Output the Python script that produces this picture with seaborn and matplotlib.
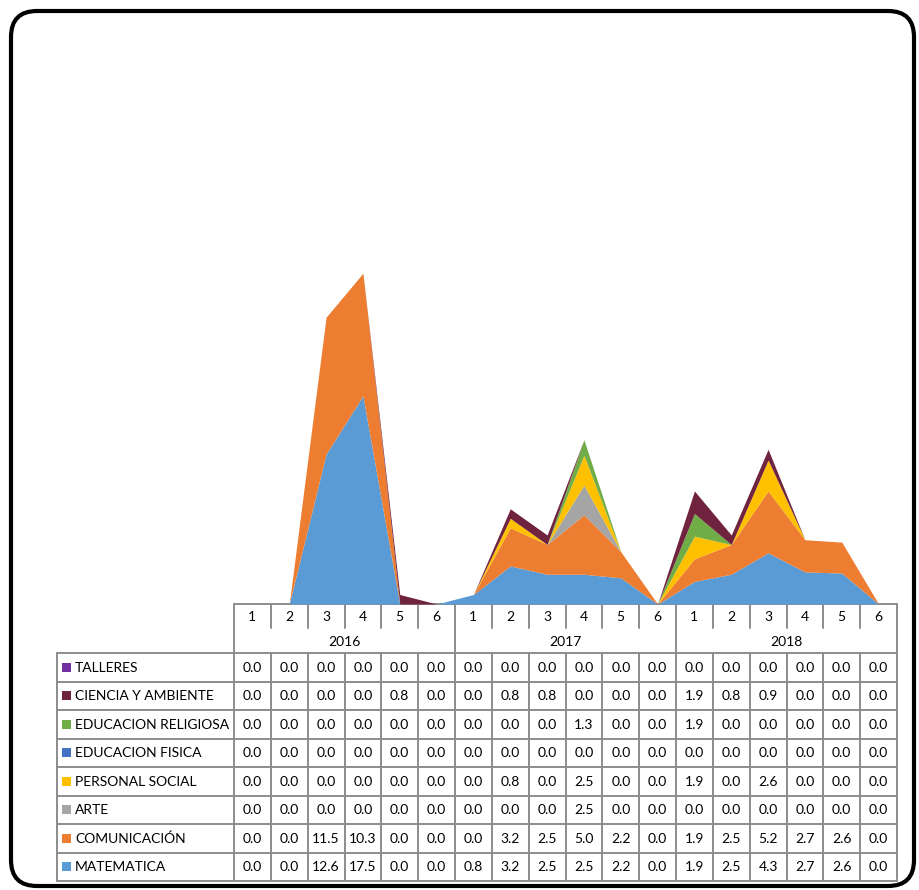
import matplotlib
matplotlib.use("Agg")
import matplotlib.pyplot as plt
from matplotlib.patches import FancyBboxPatch, Rectangle
import numpy as np
import seaborn as sns

# --- data -------------------------------------------------------------
years = ["2016", "2017", "2018"]
periods = ["1", "2", "3", "4", "5", "6"]

subjects = ["MATEMATICA", "COMUNICACIÓN", "ARTE", "PERSONAL SOCIAL",
            "EDUCACION FISICA", "EDUCACION RELIGIOSA", "CIENCIA Y AMBIENTE",
            "TALLERES"]

matematica = [0.0, 0.0, 12.6, 17.5, 0.0, 0.0, 0.8, 3.2, 2.5, 2.5, 2.2, 0.0,
              1.9, 2.5, 4.3, 2.7, 2.6, 0.0]
comunicacion = [0.0, 0.0, 11.5, 10.3, 0.0, 0.0, 0.0, 3.2, 2.5, 5.0, 2.2, 0.0,
                1.9, 2.5, 5.2, 2.7, 2.6, 0.0]
arte = [0.0, 0.0, 0.0, 0.0, 0.0, 0.0, 0.0, 0.0, 0.0, 2.5, 0.0, 0.0,
        0.0, 0.0, 0.0, 0.0, 0.0, 0.0]
personal_social = [0.0, 0.0, 0.0, 0.0, 0.0, 0.0, 0.0, 0.8, 0.0, 2.5, 0.0, 0.0,
                   1.9, 0.0, 2.6, 0.0, 0.0, 0.0]
educacion_fisica = [0.0] * 18
educacion_religiosa = [0.0, 0.0, 0.0, 0.0, 0.0, 0.0, 0.0, 0.0, 0.0, 1.3, 0.0, 0.0,
                       1.9, 0.0, 0.0, 0.0, 0.0, 0.0]
ciencia_ambiente = [0.0, 0.0, 0.0, 0.0, 0.8, 0.0, 0.0, 0.8, 0.8, 0.0, 0.0, 0.0,
                    1.9, 0.8, 0.9, 0.0, 0.0, 0.0]
talleres = [0.0] * 18

series = [matematica, comunicacion, arte, personal_social, educacion_fisica,
          educacion_religiosa, ciencia_ambiente, talleres]

colors = ["#5B9BD5", "#ED7D31", "#A5A5A5", "#FFC000", "#4472C4", "#70AD47",
          "#70233F", "#7030A0"]

# --- style ------------------------------------------------------------
sns.set_theme(style="white")
plt.rcParams["font.family"] = ["Lato", "DejaVu Sans"]
palette = sns.color_palette(colors)

W, H = 919, 890
fig = plt.figure(figsize=(W / 100, H / 100), dpi=100)

# pixel-space helper axes for the frame and the data table
bg = fig.add_axes([0, 0, 1, 1])
bg.set_xlim(0, W)
bg.set_ylim(H, 0)
bg.axis("off")

frame = FancyBboxPatch((11, 11), 903, 875,
                       boxstyle="round,pad=0,rounding_size=26",
                       fill=False, ec="black", lw=3.0, zorder=1)
bg.add_patch(frame)

# geometry of the table
x0, x1 = 234.0, 897.0      # category columns
lx = 57.0                  # legend column left edge
y_axis = 604.0             # top of header (category axis)
y_hdr1 = 628.0             # end of period tick lines
y_hdr2 = 653.0             # start of data rows
row_h = 28.5
n_cat = len(years) * len(periods)
col_w = (x1 - x0) / n_cat

# --- stacked area ------------------------------------------------------
ax = fig.add_axes([x0 / W, (H - y_axis) / H, (x1 - x0) / W, 357 / H])
xs = np.arange(n_cat) + 0.5
ax.stackplot(xs, *series, colors=palette, linewidth=0, zorder=2)
ax.set_xlim(0, n_cat)
ax.set_ylim(0, 30)
ax.axis("off")

# --- data table ----------------------------------------------------------
grid_c = "#8C8C8C"
lw = 1.4
fs = 10

# header: axis line, period ticks and year blocks
bg.plot([x0, x1], [y_axis, y_axis], color=grid_c, lw=lw, zorder=3)
for i in range(n_cat + 1):
    xv = x0 + i * col_w
    if i % len(periods) == 0:
        bg.plot([xv, xv], [y_axis, y_hdr2], color=grid_c, lw=lw, zorder=3)
    else:
        bg.plot([xv, xv], [y_axis, y_hdr1], color=grid_c, lw=lw, zorder=3)
for i in range(n_cat):
    bg.text(x0 + (i + 0.5) * col_w, (y_axis + y_hdr1) / 2 + 1,
            periods[i % len(periods)], ha="center", va="center", fontsize=fs,
            color="black")
for k, yr in enumerate(years):
    xc = x0 + (k + 0.5) * len(periods) * col_w
    bg.text(xc, (y_hdr1 + y_hdr2) / 2 + 1, yr, ha="center", va="center",
            fontsize=fs, color="black")

# body rows, top row is the last stacked series
n_rows = len(subjects)
y_bot = y_hdr2 + n_rows * row_h
for r in range(n_rows + 1):
    yv = y_hdr2 + r * row_h
    bg.plot([lx, x1], [yv, yv], color=grid_c, lw=lw, zorder=3)
bg.plot([lx, lx], [y_hdr2, y_bot], color=grid_c, lw=lw, zorder=3)
for i in range(n_cat + 1):
    xv = x0 + i * col_w
    bg.plot([xv, xv], [y_hdr2, y_bot], color=grid_c, lw=lw, zorder=3)

for r in range(n_rows):
    s = n_rows - 1 - r
    yc = y_hdr2 + (r + 0.5) * row_h
    bg.add_patch(Rectangle((62, yc - 4.5), 9, 9, color=palette[s], lw=0,
                           zorder=4))
    bg.text(75, yc + 0.5, subjects[s], ha="left", va="center", fontsize=fs,
            color="black")
    for i, v in enumerate(series[s]):
        bg.text(x0 + (i + 0.5) * col_w, yc + 0.5, f"{v:.1f}", ha="center",
                va="center", fontsize=fs, color="black")

fig.savefig("out.png", dpi=100, facecolor="white")
